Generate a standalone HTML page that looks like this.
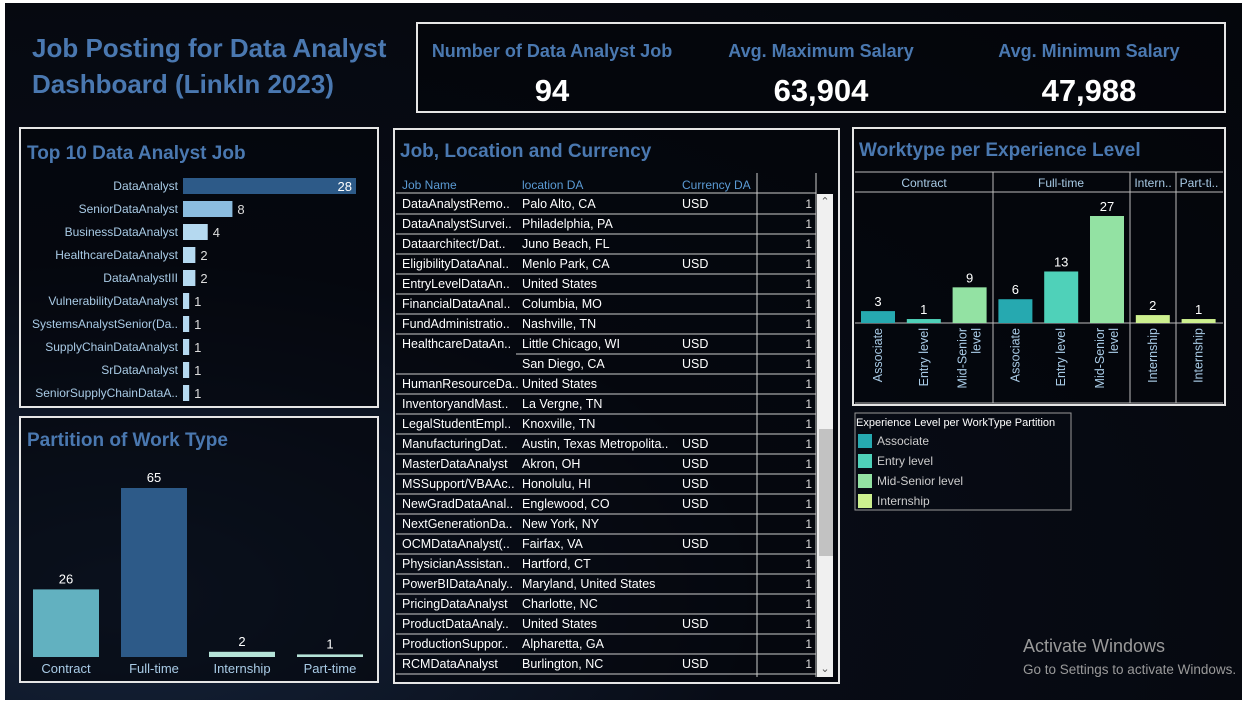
<!DOCTYPE html>
<html><head><meta charset="utf-8">
<style>
body{margin:0;width:1248px;height:705px;background:#fff;overflow:hidden;font-family:"Liberation Sans",sans-serif;}
#bg{position:absolute;left:5px;top:3px;width:1237px;height:697px;background:radial-gradient(ellipse at 10% 85%,#15233a 0%,#080c16 40%,#04060b 100%);}
svg{position:absolute;left:0;top:0}
</style></head><body>
<div id="bg"></div>
<svg id="s" width="1248" height="705"></svg>
<script>
const topJobs=["DataAnalyst","SeniorDataAnalyst","BusinessDataAnalyst","HealthcareDataAnalyst","DataAnalystIII","VulnerabilityDataAnalyst","SystemsAnalystSenior(Da..","SupplyChainDataAnalyst","SrDataAnalyst","SeniorSupplyChainDataA.."];
const topCounts=[28,8,4,2,2,1,1,1,1,1];
const workTypes=["Contract","Full-time","Internship","Part-time"];
const workCounts=[26,65,2,1];
const expGroups=["Contract","Contract","Contract","Full-time","Full-time","Full-time","Internship","Part-time"];
const expLevels=["Associate","Entry level","Mid-Senior level","Associate","Entry level","Mid-Senior level","Internship","Internship"];
const expCounts=[3,1,9,6,13,27,2,1];
const tJobs=["DataAnalystRemo..","DataAnalystSurvei..","Dataarchitect/Dat..","EligibilityDataAnal..","EntryLevelDataAn..","FinancialDataAnal..","FundAdministratio..","HealthcareDataAn..","","HumanResourceDa..","InventoryandMast..","LegalStudentEmpl..","ManufacturingDat..","MasterDataAnalyst","MSSupport/VBAAc..","NewGradDataAnal..","NextGenerationDa..","OCMDataAnalyst(..","PhysicianAssistan..","PowerBIDataAnaly..","PricingDataAnalyst","ProductDataAnaly..","ProductionSuppor..","RCMDataAnalyst"];
const tLocs=["Palo Alto, CA","Philadelphia, PA","Juno Beach, FL","Menlo Park, CA","United States","Columbia, MO","Nashville, TN","Little Chicago, WI","San Diego, CA","United States","La Vergne, TN","Knoxville, TN","Austin, Texas Metropolita..","Akron, OH","Honolulu, HI","Englewood, CO","New York, NY","Fairfax, VA","Hartford, CT","Maryland, United States","Charlotte, NC","United States","Alpharetta, GA","Burlington, NC"];
const tCur=["USD","","","USD","","","","USD","USD","","","","USD","USD","USD","USD","","USD","","","","USD","","USD"];
const tCnt=[1,1,1,1,1,1,1,1,1,1,1,1,1,1,1,1,1,1,1,1,1,1,1,1];
const kpiLabels=["Number of Data Analyst Job","Avg. Maximum Salary","Avg. Minimum Salary"];
const kpiValues=["94","63,904","47,988"];

const S=document.getElementById('s');const NS="http://www.w3.org/2000/svg";
function el(t,a,txt){const e=document.createElementNS(NS,t);for(const k in a)e.setAttribute(k,a[k]);if(txt!==undefined)e.textContent=txt;S.appendChild(e);return e;}
const BLUE="#4a78b0",F="Liberation Sans, sans-serif";
function panel(x,y,w,h,name){const r=el('rect',{x,y,width:w,height:h,fill:"rgba(3,5,10,0.6)",stroke:"#e6e6e6","stroke-width":2});}
function txt(x,y,s,o,name){const t=el('text',Object.assign({x,y,'font-family':F},o),s);return t;}

txt(32,57,"Job Posting for Data Analyst",{fill:BLUE,'font-size':26,'font-weight':'bold'},'dashboard-title');
txt(32,93,"Dashboard (LinkIn 2023)",{fill:BLUE,'font-size':26,'font-weight':'bold'},'dashboard-subtitle');
panel(417,23,808,89,'kpi-panel');
const kx=[552,821,1089];
kpiLabels.forEach((l,i)=>{txt(kx[i],57,l,{fill:BLUE,'font-size':18,'font-weight':'bold','text-anchor':'middle'},'kpi-label');
 txt(kx[i],101,kpiValues[i],{fill:"#fff",'font-size':31,'font-weight':'bold','text-anchor':'middle'},'kpi-value');});

panel(20,128,358,279,'top10-panel');
txt(27,159,"Top 10 Data Analyst Job",{fill:BLUE,'font-size':19,'font-weight':'bold'},'top10-title');
const tx0=183,tsc=173/28;
topJobs.forEach((j,i)=>{const cy=186+i*23;
 txt(178,cy+4,j,{fill:"#a9cbe6",'font-size':12,'text-anchor':'end'},'top10-label');
 const w=topCounts[i]*tsc;const c=i==0?"#2d5a88":i==1?"#8bbcdf":"#b5d9f0";
 const b=el('rect',{x:tx0,y:cy-8,width:w,height:16,fill:c});
 if(i==0)txt(tx0+w-4,cy+5,topCounts[i],{fill:"#fff",'font-size':13,'text-anchor':'end'},'top10-value');
 else txt(tx0+w+5,cy+5,topCounts[i],{fill:"#ddd",'font-size':13},'top10-value');});

panel(20,417,358,265,'partition-panel');
txt(27,446,"Partition of Work Type",{fill:BLUE,'font-size':19,'font-weight':'bold'},'partition-title');
const pb=657,psc=169/65,pcol=["#62b1c0","#2d5a88","#b5e3d8","#b5e3d8"];
workTypes.forEach((w,i)=>{const x=33+i*88;const h=workCounts[i]*psc;
 const b=el('rect',{x,y:pb-h,width:66,height:h,fill:pcol[i]});
 txt(x+33,pb-h-6,workCounts[i],{fill:"#fff",'font-size':13,'text-anchor':'middle'},'partition-value');
 txt(x+33,673,w,{fill:"#a9cbe6",'font-size':13,'text-anchor':'middle'},'partition-label');});

panel(394,129,445,554,'table-panel');
txt(400,157,"Job, Location and Currency",{fill:BLUE,'font-size':19,'font-weight':'bold'},'table-title');
txt(402,189,"Job Name",{fill:"#5b9bd5",'font-size':12},'column-header-job');
txt(522,189,"location DA",{fill:"#5b9bd5",'font-size':12},'column-header-location');
txt(682,189,"Currency DA",{fill:"#5b9bd5",'font-size':12},'column-header-currency');
el('line',{x1:757,y1:173,x2:757,y2:677,stroke:"#ccc"});el('line',{x1:816,y1:173,x2:816,y2:677,stroke:"#ccc"});
el('line',{x1:396,y1:193,x2:816,y2:193,stroke:"#ccc"});
tLocs.forEach((l,i)=>{const y=194+i*20;
 if(tJobs[i])txt(402,y+14,tJobs[i],{fill:"#fff",'font-size':12.5},'table-cell-job');
 txt(522,y+14,l,{fill:"#fff",'font-size':12.5},'table-cell-location');
 if(tCur[i])txt(682,y+14,tCur[i],{fill:"#fff",'font-size':12.5},'table-cell-currency');
 txt(812,y+14,tCnt[i],{fill:"#ddd",'font-size':12,'text-anchor':'end'},'table-cell-count');
 const x1=(i==7)?516:396;el('line',{x1,y1:y+20,x2:816,y2:y+20,stroke:"#ccc"});});
const sb=el('rect',{x:817,y:194,width:16,height:483,fill:"#f0f0f0"});
const th=el('rect',{x:819,y:429,width:14,height:127,fill:"#c2c2c2"});
txt(825,205,"⌃",{fill:"#555",'font-size':11,'text-anchor':'middle'},'scroll-up');
txt(825,672,"⌄",{fill:"#555",'font-size':11,'text-anchor':'middle'},'scroll-down');

panel(853,128,372,277,'worktype-panel');
txt(859,156,"Worktype per Experience Level",{fill:BLUE,'font-size':19,'font-weight':'bold'},'worktype-title');
el('line',{x1:855,y1:172,x2:1223,y2:172,stroke:"#bbb"});el('line',{x1:855,y1:192,x2:1223,y2:192,stroke:"#bbb"});
el('line',{x1:855,y1:323,x2:1223,y2:323,stroke:"#bbb"});el('line',{x1:855,y1:403,x2:1223,y2:403,stroke:"#bbb"});
[993,1130,1176].forEach(x=>el('line',{x1:x,y1:172,x2:x,y2:403,stroke:"#bbb"}));
[["Contract",924],["Full-time",1061],["Intern..",1153],["Part-ti..",1199]].forEach(h=>txt(h[1],187,h[0],{fill:"#a9cbe6",'font-size':12,'text-anchor':'middle'},'worktype-group-header'));
const ecol={"Associate":"#26a9b0","Entry level":"#4fd1b9","Mid-Senior level":"#93e2a3","Internship":"#cdf08f"};
const ebase=323,esc=107/27;
expCounts.forEach((v,i)=>{const x=861+i*45.8;const h=v*esc;
 const b=el('rect',{x,y:ebase-h,width:34,height:h,fill:ecol[expLevels[i]]});
 txt(x+17,ebase-h-5,v,{fill:"#fff",'font-size':13,'text-anchor':'middle'},'experience-value');
 const lab=expLevels[i]=="Mid-Senior level"?["Mid-Senior","level"]:[expLevels[i]];
 lab.forEach((s,k)=>{const tx=x+21+(lab.length>1?(k*14-7):0);const anchor=lab.length>1&&k==1?'end':'end';
  txt(tx,328,s,{fill:"#a9cbe6",'font-size':12.5,'text-anchor':anchor,transform:`rotate(-90 ${tx} 328)`},'experience-axis-label');});});

const lg=el('rect',{x:855,y:413,width:216,height:97,fill:"none",stroke:"#999"});
txt(856,426,"Experience Level per WorkType Partition",{fill:"#fff",'font-size':11},'legend-title');
Object.keys(ecol).forEach((k,i)=>{const y=434+i*20;const r=el('rect',{x:858,y,width:14,height:14,fill:ecol[k]});
 txt(877,y+11,k,{fill:"#ccc",'font-size':12},'legend-entry');});

txt(1023,652,"Activate Windows",{fill:"#9a9a9a",'font-size':18},'activate-windows-title');
txt(1023,674,"Go to Settings to activate Windows.",{fill:"#9a9a9a",'font-size':13.5},'activate-windows-text');
</script>
</body></html>
